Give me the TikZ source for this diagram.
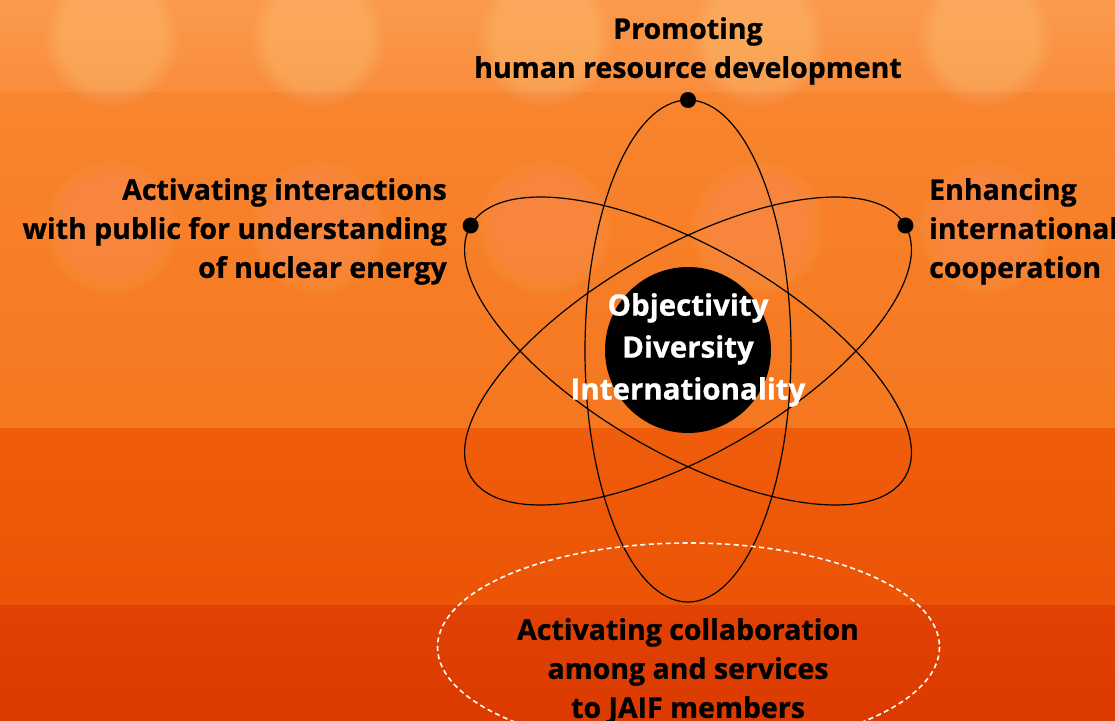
\documentclass[tikz,border=0pt]{standalone}
\usepackage{fontspec}
\setmainfont{Open Sans}[BoldFeatures={FakeBold=0.8}]
\definecolor{topA}{HTML}{FB9A4C}
\definecolor{topB}{HTML}{F98D3C}
\definecolor{midA}{HTML}{F8852F}
\definecolor{midB}{HTML}{F5771F}
\definecolor{lowA}{HTML}{EF5D0C}
\definecolor{lowB}{HTML}{EC5406}
\definecolor{botA}{HTML}{E14204}
\definecolor{botB}{HTML}{DC3A00}
\definecolor{glow}{HTML}{FFD9A8}
\begin{document}
\begin{tikzpicture}[x=1pt,y=-1pt,
  orbit/.style={draw=black, line width=1.2pt},
  electron/.style={circle, fill=black, inner sep=0pt, minimum size=16pt},
  nucleus/.style={circle, fill=black, inner sep=0pt, minimum size=166pt},
  txt/.style={inner sep=0pt, text=black, font=\bfseries\fontsize{28.5}{39}\selectfont},
  coretxt/.style={inner sep=0pt, text=white, font=\bfseries\fontsize{29.5}{42}\selectfont},
  bokeh/.style={fill=glow, opacity=#1}]
\useasboundingbox (0,0) rectangle (1115,720);
% background bands
\shade[top color=topA, bottom color=topB] (0,0) rectangle (1115,92);
\shade[top color=midA, bottom color=midB] (0,92) rectangle (1115,428);
\shade[top color=lowA, bottom color=lowB] (0,428) rectangle (1115,605);
\shade[top color=botA, bottom color=botB] (0,605) rectangle (1115,720);
% bokeh
\foreach \cx in {112,318,545,758,985} {
  \foreach \r in {50,51,...,68} {
    \fill[bokeh=0.018] (\cx,40) circle (\r);
    \fill[bokeh=0.012] (\cx,228) circle (\r);
  }
}
% atom
\coordinate (c) at (688,351);
\node[nucleus] (nuc) at (688,350) {};
\draw[orbit] (c) ellipse [x radius=103, y radius=251];
\draw[orbit, rotate around={60:(c)}] (c) ellipse [x radius=103, y radius=251];
\draw[orbit, rotate around={-60:(c)}] (c) ellipse [x radius=103, y radius=251];
\node[electron] (e1) at (688,100) {};
\node[electron] (e2) at (470.6,225.5) {};
\node[electron] (e3) at (905.4,225.5) {};
% dashed members ellipse
\draw[white, line width=1.6pt, dash pattern=on 5pt off 3.5pt] (688.5,647) ellipse [x radius=251, y radius=104];
% texts
\node[txt, anchor=north, align=center] (tp) at (688,17) {Promoting\\human resource development};
\node[txt, anchor=north east, align=right] (lf) at (447,178) {Activating interactions\\with public for understanding\\of nuclear energy};
\node[txt, anchor=north west, align=left] (rt) at (929,178) {Enhancing\\international\\cooperation};
\node[coretxt, anchor=north, align=center] (core) at (688,293) {Objectivity\\Diversity\\Internationality};
\node[txt, anchor=north, align=center] (bt) at (688,618) {Activating collaboration\\among and services\\to JAIF members};
\end{tikzpicture}
\end{document}
